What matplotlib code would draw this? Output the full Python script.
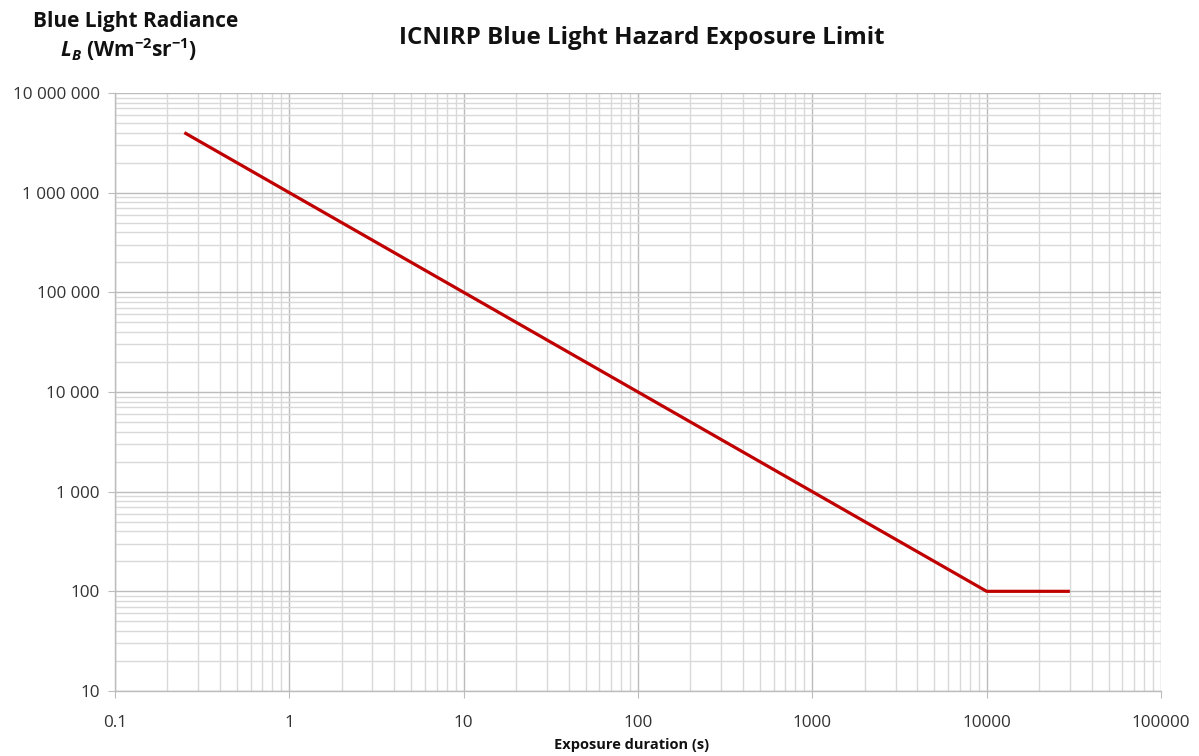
import matplotlib
matplotlib.use("Agg")
import matplotlib.pyplot as plt
from matplotlib.ticker import LogLocator, FuncFormatter, NullFormatter

# ICNIRP blue light hazard limit: L_B = 10^6 / t up to 10^4 s, then 100
duration = [0.25, 10000, 30000]
radiance = [4e6, 100, 100]

x_ticks = [0.1, 1, 10, 100, 1000, 10000, 100000]
x_labels = ["0.1", "1", "10", "100", "1000", "10000", "100000"]

plt.rcParams['font.family'] = ['Open Sans', 'DejaVu Sans']
plt.rcParams['mathtext.fontset'] = 'custom'
plt.rcParams['mathtext.rm'] = 'Open Sans'
plt.rcParams['mathtext.it'] = 'Open Sans:italic'
plt.rcParams['mathtext.bf'] = 'Open Sans:bold'
plt.rcParams['mathtext.bfit'] = 'Open Sans:bold:italic'

fig = plt.figure(figsize=(11.99, 7.56), dpi=100)
ax = fig.add_axes([0.0959, 0.086, 0.8724, 0.791])

ax.plot(duration, radiance, color='#C00000', lw=2.3, solid_capstyle='butt', zorder=3)

ax.set_xscale('log')
ax.set_yscale('log')
ax.set_xlim(0.1, 100000)
ax.set_ylim(10, 1e7)

ax.xaxis.set_major_locator(LogLocator(base=10, numticks=20))
ax.xaxis.set_minor_locator(LogLocator(base=10, subs=range(2, 10), numticks=20))
ax.yaxis.set_major_locator(LogLocator(base=10, numticks=20))
ax.yaxis.set_minor_locator(LogLocator(base=10, subs=range(2, 10), numticks=20))
ax.set_xticks(x_ticks)
ax.set_xticklabels(x_labels)
ax.yaxis.set_major_formatter(FuncFormatter(lambda v, p: f"{int(round(v)):,}".replace(",", " ")))
ax.xaxis.set_minor_formatter(NullFormatter())
ax.yaxis.set_minor_formatter(NullFormatter())

ax.grid(which='major', color='#bcbcbc', lw=1.0)
ax.grid(which='minor', color='#d9d9d9', lw=1.0)
ax.set_axisbelow(True)

for s in ['top', 'right']:
    ax.spines[s].set_visible(False)
for s in ['left', 'bottom']:
    ax.spines[s].set_color('#bcbcbc')
    ax.spines[s].set_linewidth(1.0)

ax.tick_params(which='major', length=5, color='#bcbcbc', labelsize=12.3, labelcolor='#333333')
ax.tick_params(which='minor', length=0)
ax.tick_params(axis='x', pad=12)
ax.tick_params(axis='y', pad=6)
ax.xaxis.label.set_visible(False)
ax.yaxis.label.set_visible(False)

fig.text(0.535, 0.95, "ICNIRP Blue Light Hazard Exposure Limit", ha='center', va='center',
         fontsize=17.4, fontweight='bold', color='#111111')
fig.text(0.113, 0.972, "Blue Light Radiance", ha='center', va='center',
         fontsize=15, fontweight='bold', color='#111111')
fig.text(0.107, 0.935, r"$\mathbfit{L}_{\mathbfit{B}}$ (Wm$^{\mathbf{-2}}$sr$^{\mathbf{-1}}$)",
         ha='center', va='center', fontsize=15, fontweight='bold', color='#111111')
fig.text(0.527, 0.015, "Exposure duration (s)", ha='center', va='center',
         fontsize=10.5, fontweight='bold', color='#111111')

fig.savefig("out.png", dpi=100)
